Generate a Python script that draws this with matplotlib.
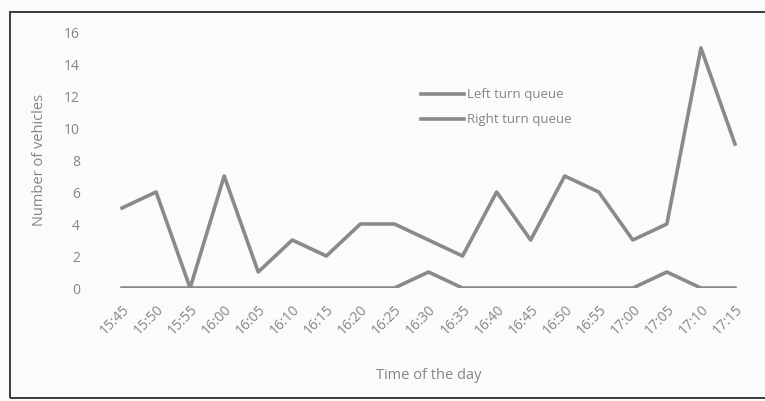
import matplotlib.pyplot as plt
from matplotlib.patches import Rectangle

# Queue lengths counted every 5 minutes
times = ['15:45', '15:50', '15:55', '16:00', '16:05', '16:10', '16:15',
         '16:20', '16:25', '16:30', '16:35', '16:40', '16:45', '16:50',
         '16:55', '17:00', '17:05', '17:10', '17:15']
left_turn = [5, 6, 0, 7, 1, 3, 2, 4, 4, 3, 2, 6, 3, 7, 6, 3, 4, 15, 9]
right_turn = [0, 0, 0, 0, 0, 0, 0, 0, 0, 1, 0, 0, 0, 0, 0, 0, 1, 0, 0]
y_ticks = [0, 2, 4, 6, 8, 10, 12, 14, 16]

grey_line = '#8a8a8a'
grey_text = '#858585'

plt.rcParams['font.family'] = ['Open Sans', 'DejaVu Sans']

fig = plt.figure(figsize=(7.65, 4.01), dpi=100, facecolor='#fbfbfb')
ax = fig.add_axes([105 / 765, 1 - 288 / 401, 647 / 765, 256 / 401])
ax.set_facecolor('none')

x = list(range(len(times)))
ax.plot(x, left_turn, color=grey_line, lw=2.6, label='Left turn queue')
ax.plot(x, right_turn, color=grey_line, lw=2.6, label='Right turn queue')

ax.set_xlim(-0.5, len(times) - 0.5)
ax.set_ylim(0, 16)
ax.set_yticks(y_ticks)
ax.set_xticks(x)
ax.set_xticklabels(times, rotation=45, ha='right', rotation_mode='anchor')
ax.tick_params(length=0, labelsize=10, colors=grey_text)
ax.tick_params(axis='x', pad=10)
ax.tick_params(axis='y', pad=18)
for s in ax.spines.values():
    s.set_visible(False)

ax.set_xlabel('Time of the day', fontsize=10.5, color=grey_text, labelpad=22)
ax.set_ylabel('Number of vehicles', fontsize=10.5, color=grey_text, labelpad=12)

leg = ax.legend(loc='upper left', bbox_to_anchor=(0.48, 0.80), frameon=False,
                fontsize=9.5, handlelength=3.3, handletextpad=0.2,
                labelspacing=0.9, borderaxespad=0)
for t in leg.get_texts():
    t.set_color(grey_text)

# outer frame of the chart
fig.patches.append(Rectangle((10 / 765, 3 / 401), 800 / 765, 386 / 401,
                             transform=fig.transFigure, fill=False,
                             edgecolor='#3a3a3a', lw=1.4))

fig.savefig('out.png', dpi=100, facecolor=fig.get_facecolor())
